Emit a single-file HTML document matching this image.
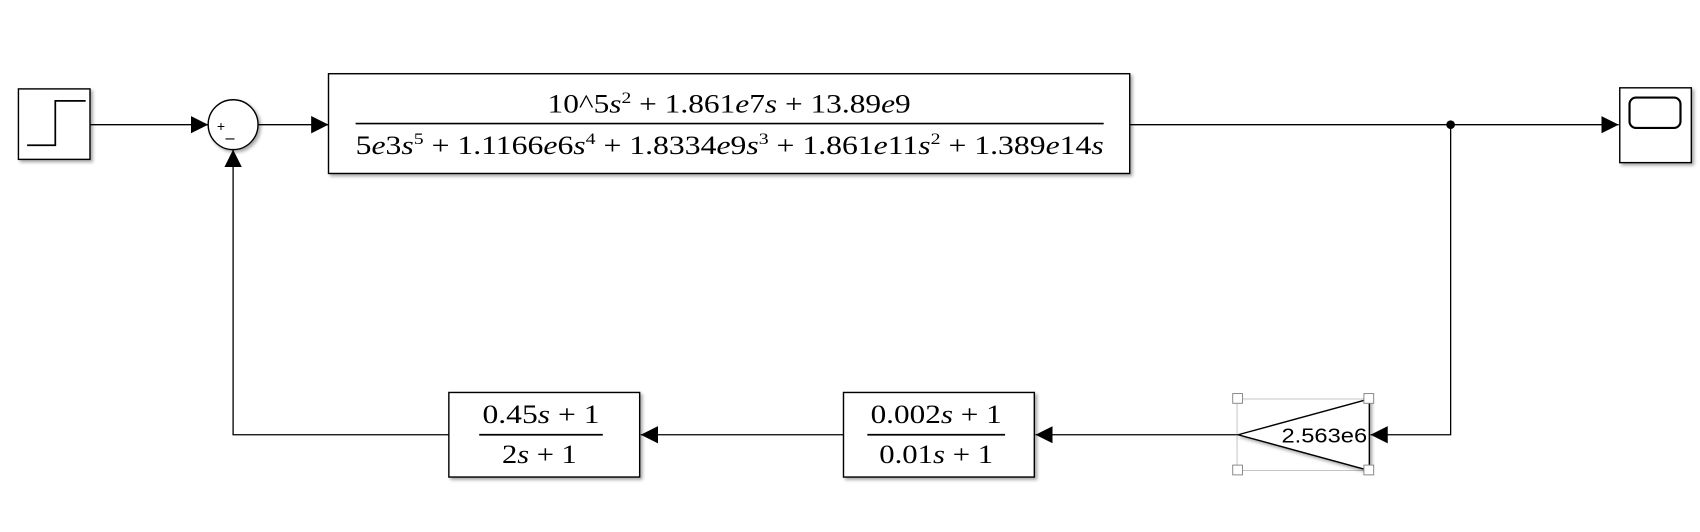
<!DOCTYPE html>
<html><head><meta charset="utf-8"><style>
html,body{margin:0;padding:0;background:#fff;width:1700px;height:532px;overflow:hidden}
svg{display:block}
text{font-family:"Liberation Serif",serif;fill:#000}
text.sans{font-family:"Liberation Sans",sans-serif}
.i{font-style:italic}
</style></head><body>
<svg width="1700" height="532" viewBox="0 0 1568 490.7" preserveAspectRatio="none" xmlns="http://www.w3.org/2000/svg">
<defs>
<filter id="sh" x="-10%" y="-10%" width="130%" height="140%"><feDropShadow dx="2" dy="2" stdDeviation="1.5" flood-color="#000" flood-opacity="0.35"/></filter>
<marker id="ar" viewBox="0 0 10 10" refX="10" refY="5" markerWidth="16" markerHeight="16" markerUnits="userSpaceOnUse" orient="auto"><path d="M0,0L10,5L0,10z" fill="#000"/></marker>
</defs>
<g stroke="#000" stroke-width="1.2" fill="none">
<line x1="83" y1="115" x2="192" y2="115" marker-end="url(#ar)"/>
<line x1="238" y1="115" x2="303" y2="115" marker-end="url(#ar)"/>
<line x1="1042" y1="115" x2="1493" y2="115" marker-end="url(#ar)"/>
<polyline points="1338,115 1338,401 1264,401" marker-end="url(#ar)"/>
<line x1="1142" y1="401" x2="955" y2="401" marker-end="url(#ar)"/>
<line x1="778" y1="401" x2="591" y2="401" marker-end="url(#ar)"/>
<polyline points="414,401 215,401 215,138" marker-end="url(#ar)"/>
</g>
<circle cx="1338" cy="115" r="4" fill="#000"/>
<g>
<rect x="17" y="82" width="66" height="65" fill="#fff" stroke="#000" stroke-width="1.3" filter="url(#sh)"/>
<polyline points="25,134 51,134 51,93 79,93" fill="none" stroke="#000" stroke-width="1.6"/>
</g>
<g>
<circle cx="215" cy="115" r="23" fill="#fff" stroke="#000" stroke-width="1.3" filter="url(#sh)"/>
<text class="sans" x="200" y="121" font-size="13">+</text>
<text class="sans" x="208" y="132" font-size="15">–</text>
</g>
<g>
<rect x="303" y="68" width="739" height="92" fill="#fff" stroke="#000" stroke-width="1.3" filter="url(#sh)"/>
<text x="505" y="104" font-size="24" textLength="335" lengthAdjust="spacingAndGlyphs">10^5<tspan class="i">s</tspan><tspan font-size="15" dy="-9">2</tspan><tspan dy="9"> + 1.861</tspan><tspan class="i">e</tspan>7<tspan class="i">s</tspan> + 13.89<tspan class="i">e</tspan>9</text>
<line x1="328" y1="114" x2="1018" y2="114" stroke="#000" stroke-width="1.5"/>
<text x="328" y="142" font-size="24" textLength="690" lengthAdjust="spacingAndGlyphs">5<tspan class="i">e</tspan>3<tspan class="i">s</tspan><tspan font-size="15" dy="-9">5</tspan><tspan dy="9"> + 1.1166</tspan><tspan class="i">e</tspan>6<tspan class="i">s</tspan><tspan font-size="15" dy="-9">4</tspan><tspan dy="9"> + 1.8334</tspan><tspan class="i">e</tspan>9<tspan class="i">s</tspan><tspan font-size="15" dy="-9">3</tspan><tspan dy="9"> + 1.861</tspan><tspan class="i">e</tspan>11<tspan class="i">s</tspan><tspan font-size="15" dy="-9">2</tspan><tspan dy="9"> + 1.389</tspan><tspan class="i">e</tspan>14<tspan class="i">s</tspan></text>
</g>
<g>
<rect x="1494" y="81" width="66" height="69" fill="#fff" stroke="#000" stroke-width="1.3" filter="url(#sh)"/>
<rect x="1503" y="90" width="47" height="28" rx="6" fill="#fff" stroke="#000" stroke-width="2"/>
</g>
<g>
<rect x="1141" y="368" width="121" height="66" fill="none" stroke="#bbb" stroke-width="0.8"/>
<polygon points="1142,401 1263,368 1263,434" fill="#fff" stroke="#000" stroke-width="1.3" filter="url(#sh)"/>
<text class="sans" x="1182" y="408" font-size="19" textLength="79" lengthAdjust="spacingAndGlyphs">2.563e6</text>
<g fill="#fff" stroke="#888" stroke-width="0.9">
<rect x="1137" y="363" width="9" height="9"/><rect x="1258" y="363" width="9" height="9"/>
<rect x="1137" y="429" width="9" height="9"/><rect x="1258" y="429" width="9" height="9"/>
</g>
</g>
<g>
<rect x="778" y="362" width="176" height="78" fill="#fff" stroke="#000" stroke-width="1.3" filter="url(#sh)"/>
<text x="803" y="390" font-size="24" textLength="121" lengthAdjust="spacingAndGlyphs">0.002<tspan class="i">s</tspan> + 1</text>
<line x1="800" y1="401" x2="927" y2="401" stroke="#000" stroke-width="1.5"/>
<text x="811" y="427" font-size="24" textLength="105" lengthAdjust="spacingAndGlyphs">0.01<tspan class="i">s</tspan> + 1</text>
</g>
<g>
<rect x="414" y="362" width="176" height="78" fill="#fff" stroke="#000" stroke-width="1.3" filter="url(#sh)"/>
<text x="445" y="390" font-size="24" textLength="108" lengthAdjust="spacingAndGlyphs">0.45<tspan class="i">s</tspan> + 1</text>
<line x1="442" y1="401" x2="556" y2="401" stroke="#000" stroke-width="1.5"/>
<text x="463" y="427" font-size="24" textLength="69" lengthAdjust="spacingAndGlyphs">2<tspan class="i">s</tspan> + 1</text>
</g>
</svg>
</body></html>
